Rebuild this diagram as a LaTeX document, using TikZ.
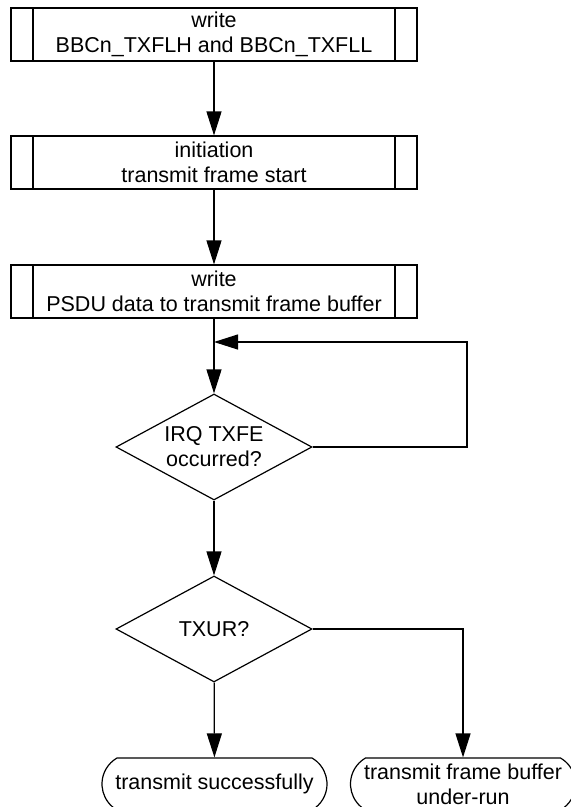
\documentclass[tikz,border=0pt]{standalone}
\usepackage{fontspec}
\setmainfont{Liberation Sans}
\usetikzlibrary{arrows.meta,shapes.geometric,shapes.misc}
\begin{document}
\begin{tikzpicture}[x=1pt,y=-1pt,
  font=\fontsize{21.5}{25}\selectfont,
  line width=1.2pt,
  proc/.style={draw, rectangle, minimum width=406pt, minimum height=53pt, inner sep=0pt, align=center,
    path picture={\draw[line width=1.2pt]
      ([xshift=22pt]path picture bounding box.north west) -- ([xshift=22pt]path picture bounding box.south west)
      ([xshift=-22pt]path picture bounding box.north east) -- ([xshift=-22pt]path picture bounding box.south east);}},
  dec/.style={draw, diamond, minimum width=196pt, minimum height=106pt, inner sep=0pt, shape aspect=1.85, align=center},
  term/.style={draw, rounded rectangle, rounded rectangle arc length=120, minimum width=225pt, minimum height=52pt, inner sep=0pt, align=center},
  arr/.style={-{Triangle[length=24pt,width=15pt]}}
]
\clip (0,0) rectangle (571,807);
\node[proc] (p1) at (214,34.5) {write\\BBCn\_TXFLH and BBCn\_TXFLL};
\node[proc] (p2) at (214,162.5) {initiation\\transmit frame start};
\node[proc] (p3) at (214,291.5) {write\\PSDU data to transmit frame buffer};
\node[dec] (d1) at (214,447) {IRQ TXFE\\occurred?};
\node[dec] (d2) at (214,629) {TXUR?};
\node[term] (t1) at (214.5,784) {transmit successfully};
\node[term] (t2) at (463,784) {transmit frame buffer\\under-run};
\coordinate (loop) at (214,342);
\coordinate (lc) at (467,342);
\draw[arr] (p1) -- (p2);
\draw[arr] (p2) -- (p3);
\draw[arr] (p3) -- (d1);
\draw[arr] (d1.east) -| (lc) -- (loop);
\draw[arr] (d1) -- (d2);
\draw[arr] (d2) -- (t1);
\draw[arr] (d2.east) -| (t2);
\end{tikzpicture}
\end{document}
